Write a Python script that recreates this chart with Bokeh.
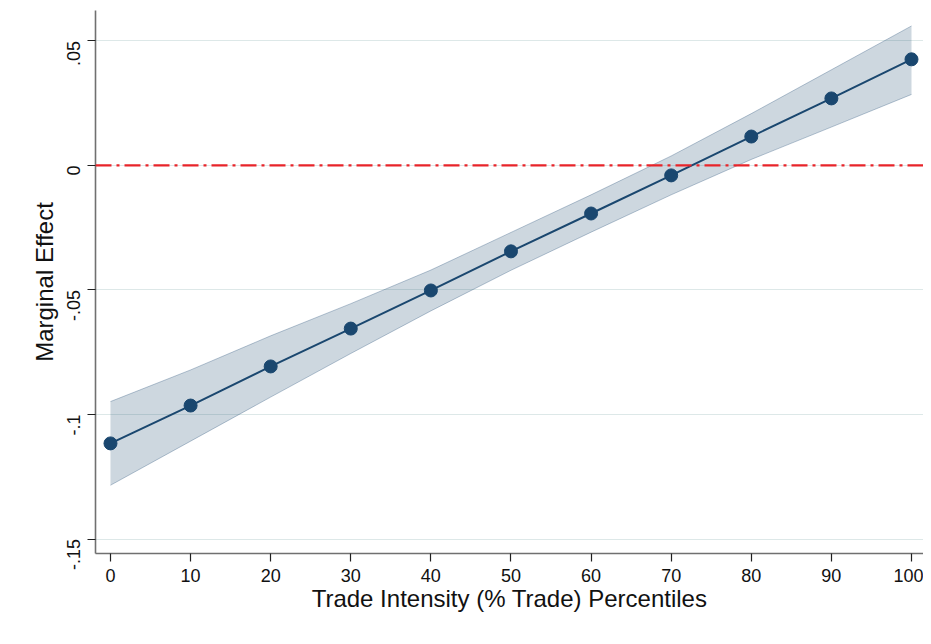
import numpy as np
from bokeh.plotting import figure
from bokeh.models import ColumnDataSource, Range1d, FixedTicker, Span
from bokeh.embed import file_html
from bokeh.resources import INLINE

percentiles = [0, 10, 20, 30, 40, 50, 60, 70, 80, 90, 100]
effect = [-0.1116, -0.0964, -0.0807, -0.0655, -0.0502, -0.0345, -0.0193, -0.0040, 0.0116, 0.0269, 0.0426]
ci_lower = [-0.1284, -0.1107, -0.0930, -0.0755, -0.0584, -0.0421, -0.0268, -0.0118, 0.0024, 0.0154, 0.0285]
ci_upper = [-0.0948, -0.0821, -0.0684, -0.0555, -0.0420, -0.0269, -0.0118, 0.0038, 0.0208, 0.0384, 0.0560]

y_ticks = [-0.15, -0.1, -0.05, 0, 0.05]
y_tick_labels = ["-.15", "-.1", "-.05", "0", ".05"]
x_ticks = [0, 10, 20, 30, 40, 50, 60, 70, 80, 90, 100]

src = ColumnDataSource(dict(x=percentiles, y=effect, lo=ci_lower, hi=ci_upper))

FONT = "Liberation Sans"
NAVY = "#1a476f"

p = figure(width=923, height=636, output_backend="svg", toolbar_location=None,
           x_range=Range1d(-1.87, 101.5), y_range=Range1d(-0.1558, 0.0622),
           min_border_left=95, min_border_right=0, min_border_top=10, min_border_bottom=83)
p.outline_line_color = None
p.background_fill_color = "white"

# confidence band
p.varea(x="x", y1="lo", y2="hi", source=src, fill_color=NAVY, fill_alpha=0.22)
p.line(x="x", y="lo", source=src, line_color=NAVY, line_alpha=0.3, line_width=1)
p.line(x="x", y="hi", source=src, line_color=NAVY, line_alpha=0.3, line_width=1)

# zero reference line
zero = Span(location=0, dimension="width", line_color="#e8242a", line_width=2.2,
            line_dash="16 5 3 5")
p.add_layout(zero)

p.line(x="x", y="y", source=src, line_color=NAVY, line_width=2)
p.scatter(x="x", y="y", source=src, size=13, fill_color=NAVY, line_color=NAVY)

# axes
p.xaxis.ticker = FixedTicker(ticks=x_ticks)
p.yaxis.ticker = FixedTicker(ticks=y_ticks)
p.yaxis.major_label_overrides = {t: l for t, l in zip(y_ticks, y_tick_labels)}
p.yaxis.major_label_orientation = np.pi / 2

for ax in (p.xaxis[0], p.yaxis[0]):
    ax.axis_line_color = "#707070"
    ax.axis_line_width = 1.6
    ax.major_tick_line_color = "#202020"
    ax.major_tick_line_width = 1.2
    ax.major_tick_out = 8
    ax.major_tick_in = 0
    ax.minor_tick_line_color = None
    ax.major_label_text_font = FONT
    ax.major_label_text_font_size = "18px"
    ax.major_label_text_color = "#111111"
    ax.axis_label_text_font = FONT
    ax.axis_label_text_font_size = "24px"
    ax.axis_label_text_font_style = "normal"
    ax.axis_label_text_color = "#111111"

p.xaxis.axis_label = "Trade Intensity (% Trade) Percentiles"
p.yaxis.axis_label = "Marginal Effect"
p.xaxis.major_label_standoff = 7
p.xaxis.axis_label_standoff = 0
p.yaxis.major_label_standoff = 14
p.yaxis.axis_label_standoff = 0

p.xgrid.grid_line_color = None
p.ygrid.grid_line_color = "#dde8e8"
p.ygrid.grid_line_width = 1.2

open("out.html", "w").write(file_html(p, INLINE))
